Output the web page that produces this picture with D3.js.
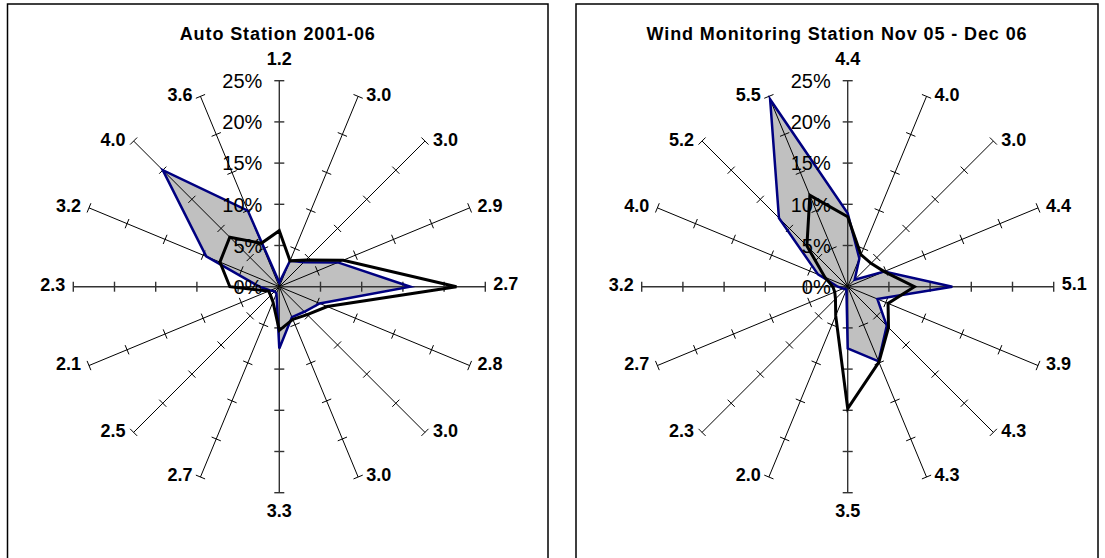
<!DOCTYPE html>
<html>
<head>
<meta charset="utf-8">
<script src="https://cdn.jsdelivr.net/npm/d3@7"></script>
<style>
  body { margin: 0; background: #fff; }
  svg { display: block; font-family: Arial, "Liberation Sans", sans-serif; }
</style>
</head>
<body>
<svg id="chart" width="1105" height="558"></svg>
<script>
// 16 compass sectors, clockwise from north
const directions = ["N","NNE","NE","ENE","E","ESE","SE","SSE","S","SSW","SW","WSW","W","WNW","NW","NNW"];
const pctTicks = [0, 5, 10, 15, 20, 25];

// Auto Station 2001-06
const autoTitle = "Auto Station 2001-06";
const autoSpeeds = ["1.2","3.0","3.0","2.9","2.7","2.8","3.0","3.0","3.3","2.7","2.5","2.1","2.3","3.2","4.0","3.6"];
const autoFilled = [0.5, 3.4, 4.2, 7.7, 15.9, 5.3, 4.3, 4.0, 7.5, 0.9, 0.8, 1.2, 2.4, 9.6, 20.0, 10.0];
const autoLine   = [6.8, 3.4, 4.6, 8.4, 21.5, 6.3, 4.8, 4.3, 5.3, 2.0, 1.5, 1.4, 6.0, 7.8, 8.5, 5.7];

// Wind Monitoring Station Nov 05 - Dec 06
const windTitle = "Wind Monitoring Station Nov 05 - Dec 06";
const windSpeeds = ["4.4","4.0","3.0","4.4","5.1","3.9","4.3","4.3","3.5","2.0","2.3","2.7","3.2","4.0","5.2","5.5"];
const windFilled = [8.9, 3.7, 1.2, 4.8, 12.7, 3.9, 6.7, 9.8, 7.5, 0.4, 0.4, 0.6, 1.2, 3.9, 11.8, 24.6];
const windLine   = [8.5, 4.2, 4.0, 4.8, 8.1, 5.3, 7.0, 9.9, 14.8, 3.8, 2.1, 1.7, 1.8, 3.0, 7.0, 12.0];

const svg = d3.select("#chart");
const R = 206;
const rScale = d3.scaleLinear().domain([0, 25]).range([0, R]);
const angle = d3.scaleLinear().domain([0, directions.length]).range([0, 2 * Math.PI]);

const panels = [
  { x0: 7.5, x1: 548, cx: 279.3, cy: 286.7, title: autoTitle, speeds: autoSpeeds, filled: autoFilled, line: autoLine },
  { x0: 576, x1: 1098, cx: 847.7, cy: 286.7, title: windTitle, speeds: windSpeeds, filled: windFilled, line: windLine }
];

function drawPanel(p) {
  svg.append("rect").attr("x", p.x0).attr("y", 4).attr("width", p.x1 - p.x0).attr("height", 570)
    .attr("fill", "#fff").attr("stroke", "#000").attr("stroke-width", 1.5);

  svg.append("text").attr("x", (p.x0 + p.x1) / 2).attr("y", 40).attr("text-anchor", "middle")
    .attr("font-size", 18).attr("font-weight", "bold").attr("letter-spacing", 0.9).text(p.title);

  const g = svg.append("g").attr("transform", `translate(${p.cx},${p.cy})`);
  const radial = d3.lineRadial().angle((d, i) => angle(i)).radius(d => rScale(d)).curve(d3.curveLinearClosed);

  g.append("path").attr("d", radial(p.filled)).attr("fill", "#c0c0c0").attr("stroke", "none");

  // spokes with ticks
  directions.forEach((dir, i) => {
    const a = angle(i), sx = Math.sin(a), sy = -Math.cos(a);
    const cardinal = i % 4 === 0;
    g.append("line").attr("x1", 0).attr("y1", 0).attr("x2", sx * R).attr("y2", sy * R)
      .attr("stroke", cardinal ? "#333" : "#000").attr("stroke-width", cardinal ? 1.4 : 1);
    pctTicks.slice(1).forEach(v => {
      const r = rScale(v), px = -sy, py = sx;
      g.append("line")
        .attr("x1", sx * r - px * 5).attr("y1", sy * r - py * 5)
        .attr("x2", sx * r + px * 5).attr("y2", sy * r + py * 5)
        .attr("stroke", cardinal ? "#333" : "#000").attr("stroke-width", cardinal ? 1.4 : 1);
    });
  });

  g.append("path").attr("d", radial(p.filled)).attr("fill", "none")
    .attr("stroke", "#000080").attr("stroke-width", 2.5).attr("stroke-linejoin", "miter");
  g.append("path").attr("d", radial(p.line)).attr("fill", "none")
    .attr("stroke", "#000").attr("stroke-width", 3).attr("stroke-linejoin", "miter");

  // percent labels on north axis
  g.selectAll(".pct").data(pctTicks).join("text")
    .attr("x", -17).attr("y", d => -rScale(d)).attr("dy", "0.36em")
    .attr("text-anchor", "end").attr("font-size", 20).text(d => d + "%");

  // wind speed labels at spoke ends
  p.speeds.forEach((s, i) => {
    const a = angle(i), ex = Math.sin(a) * R, ey = -Math.cos(a) * R;
    let x = ex, y = ey - 2, anchor = "middle";
    if (i === 0) { y = ey - 22; }
    else if (i === 8) { y = ey + 18; }
    else if (i < 8) { x = ex + 8; anchor = "start"; }
    else { x = ex - 8; anchor = "end"; }
    if (i === 4) y = ey - 3;
    g.append("text").attr("x", x).attr("y", y).attr("dy", "0.36em").attr("text-anchor", anchor)
      .attr("font-size", 18).attr("font-weight", "bold").text(s);
  });
}

panels.forEach(drawPanel);
</script>
</body>
</html>
